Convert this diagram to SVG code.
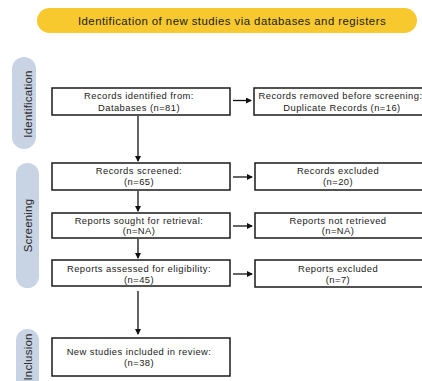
<svg xmlns="http://www.w3.org/2000/svg" width="422" height="381" viewBox="0 0 422 381">
<style>
text{font-family:"Liberation Sans",Arial,sans-serif;fill:#1a1a1a}
.b{fill:#fff;stroke:#1a1a1a;stroke-width:1.5}
.t{font-size:9.4px;letter-spacing:0.45px;text-anchor:middle}
.side{fill:#c8d3e4}
.st{font-size:11.5px;text-anchor:middle;fill:#2a2a2a;letter-spacing:0.2px}
.c{stroke:#111;stroke-width:1.3;fill:none}
</style>
<defs>
<marker id="ah" markerWidth="6" markerHeight="6" refX="5" refY="3" orient="auto" markerUnits="userSpaceOnUse"><path d="M0,0 L6,3 L0,6 Z" fill="#111"/></marker>
</defs>
<rect width="422" height="381" fill="#fff"/>
<g id="header">
<rect x="37" y="8" width="380" height="25" rx="12.5" fill="#f8c92e"/>
<text x="232" y="25" font-size="11.4" letter-spacing="0.45" text-anchor="middle">Identification of new studies via databases and registers</text>
</g>
<g id="phase-identification">
<rect class="side" x="12" y="57" width="24" height="92" rx="12"/>
<text class="st" transform="translate(32,104) rotate(-90)">Identification</text>
</g>
<g id="phase-screening">
<rect class="side" x="16" y="163" width="23" height="125" rx="11.5"/>
<text class="st" transform="translate(32,225.5) rotate(-90)">Screening</text>
</g>
<g id="phase-inclusion">
<rect class="side" x="16" y="329" width="23" height="90" rx="11.5"/>
<text class="st" transform="translate(32,357) rotate(-90)">Inclusion</text>
</g>
<g id="n1"><rect class="b" x="52" y="88" width="178" height="27"/>
<text class="t" x="139" y="99">Records identified from:</text><text class="t" x="139" y="110.5">Databases (n=81)</text></g>
<g id="n2"><rect class="b" x="254" y="88" width="185" height="27"/>
<text class="t" x="340.5" y="99" letter-spacing="0.28">Records removed before screening:</text><text class="t" x="342" y="110.5">Duplicate Records (n=16)</text></g>
<g id="n3"><rect class="b" x="52" y="163" width="178" height="27"/>
<text class="t" x="139" y="174">Records screened:</text><text class="t" x="139" y="185">(n=65)</text></g>
<g id="n4"><rect class="b" x="255" y="163" width="185" height="27"/>
<text class="t" x="338" y="174">Records excluded</text><text class="t" x="338" y="185">(n=20)</text></g>
<g id="n5"><rect class="b" x="52" y="213" width="178" height="25"/>
<text class="t" x="139" y="223.5">Reports sought for retrieval:</text><text class="t" x="139" y="234.2">(n=NA)</text></g>
<g id="n6"><rect class="b" x="255" y="213" width="185" height="25"/>
<text class="t" x="338" y="223.5">Reports not retrieved</text><text class="t" x="338" y="234.2">(n=NA)</text></g>
<g id="n7"><rect class="b" x="52" y="260" width="178" height="26"/>
<text class="t" x="139" y="271.5">Reports assessed for eligibility:</text><text class="t" x="139" y="282.5">(n=45)</text></g>
<g id="n8"><rect class="b" x="255" y="260" width="185" height="27"/>
<text class="t" x="338" y="271.5">Reports excluded</text><text class="t" x="338" y="282.5">(n=7)</text></g>
<g id="n9"><rect class="b" x="52" y="338" width="178" height="38"/>
<text class="t" x="139" y="355">New studies included in review:</text><text class="t" x="139" y="366">(n=38)</text></g>
<g id="connectors">
<path class="c" d="M233,100.5 H251" marker-end="url(#ah)"/>
<path class="c" d="M233,177 H252" marker-end="url(#ah)"/>
<path class="c" d="M233,226 H252" marker-end="url(#ah)"/>
<path class="c" d="M233,274 H252" marker-end="url(#ah)"/>
<path class="c" d="M138,116 V161" marker-end="url(#ah)"/>
<path class="c" d="M138,191 V211" marker-end="url(#ah)"/>
<path class="c" d="M138,239 V258" marker-end="url(#ah)"/>
<path class="c" d="M138,291 V334" marker-end="url(#ah)"/>
</g>
</svg>
